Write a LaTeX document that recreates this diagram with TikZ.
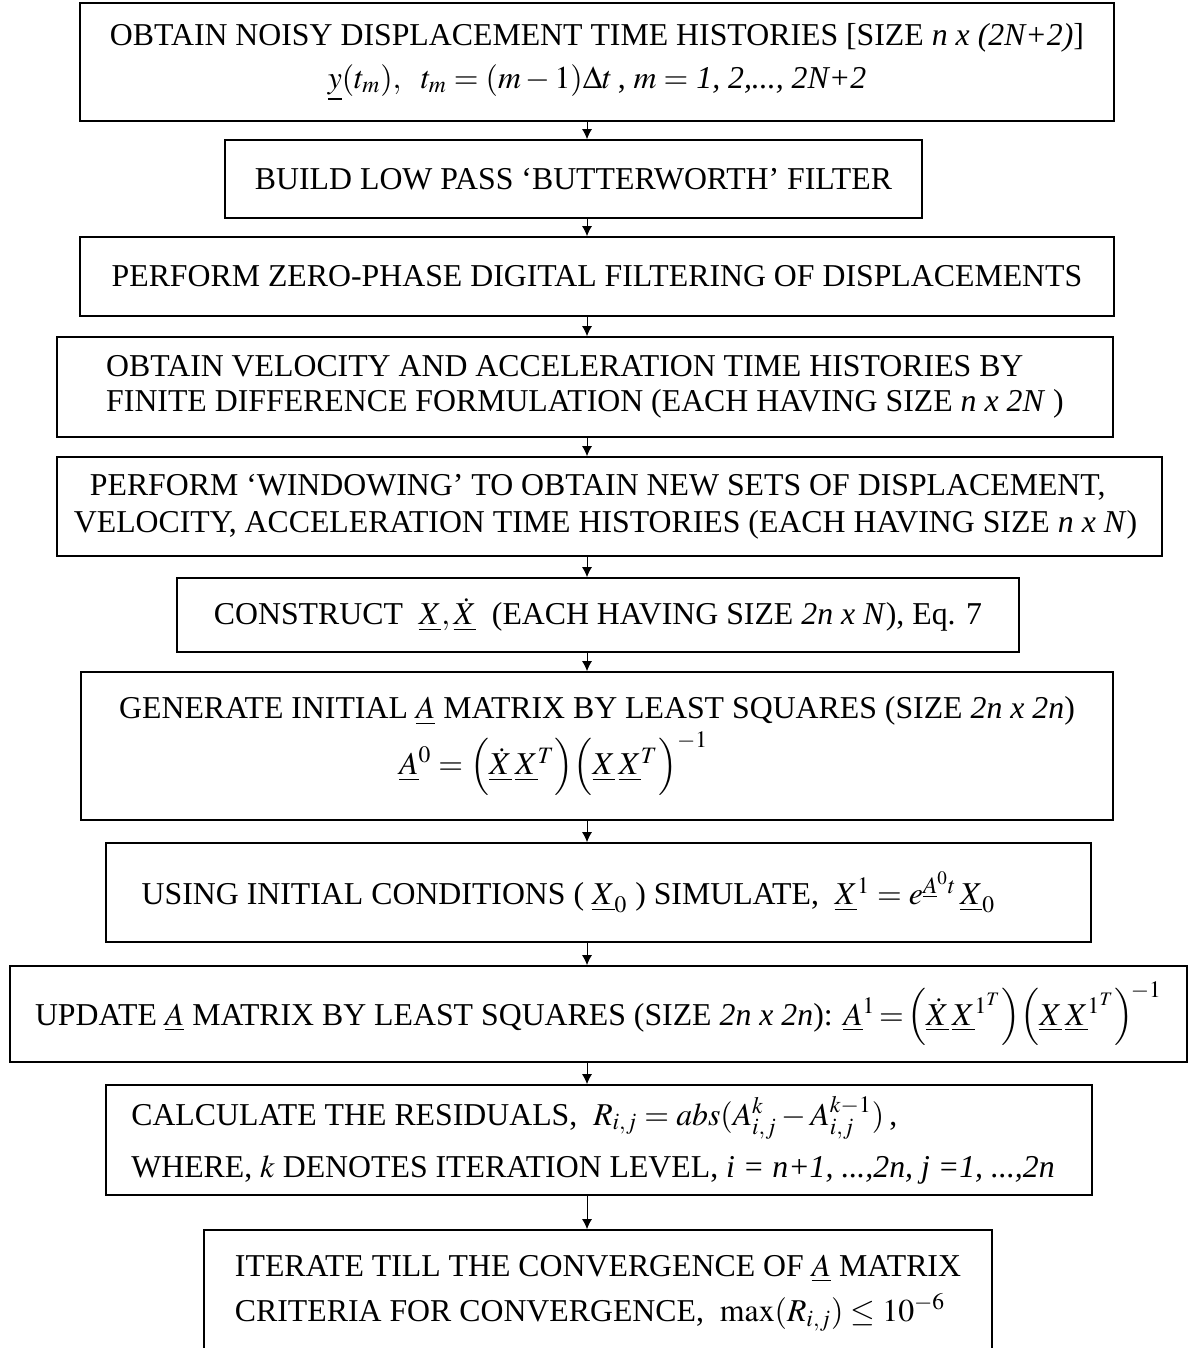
\documentclass[tikz,border=0pt]{standalone}
\usepackage{mathptmx}
\usepackage{fontspec}
\setmainfont{Liberation Serif}
\usetikzlibrary{arrows.meta}

\begin{document}
\begin{tikzpicture}[x=0.5pt,y=-0.5pt,
    box/.style={rectangle,draw,line width=0.9pt,inner sep=2pt,align=center,
        font=\fontsize{15.9}{17.5}\selectfont},
    >={Latex[length=5pt,width=5pt]}]
    \useasboundingbox (0,0) rectangle (1191,1348);
    \coordinate (ax) at (587,0);

    \node[box,minimum width=517pt,minimum height=59pt] (noisy) at (597,62)
        {OBTAIN NOISY DISPLACEMENT TIME HISTORIES [SIZE \textit{n x (2N+2)}]\\[4pt]
         $\underline{y}(t_m),\ \ t_m=(m-1)\Delta t$\,, $m=$ \textit{1, 2,..., 2N+2}};
    \node[box,minimum width=348.5pt,minimum height=39pt] (butter) at (573.5,179)
        {BUILD LOW PASS `BUTTERWORTH' FILTER};
    \node[box,minimum width=517pt,minimum height=39.5pt] (zerophase) at (597,276.5)
        {PERFORM ZERO-PHASE DIGITAL FILTERING OF DISPLACEMENTS};
    \node[box,align=left,minimum width=528pt,minimum height=50pt] (velacc) at (585,387)
        {OBTAIN VELOCITY AND ACCELERATION TIME HISTORIES BY\\
         FINITE DIFFERENCE FORMULATION (EACH HAVING SIZE \textit{n x 2N} )};
    \node[box,align=left,minimum width=552.5pt,minimum height=49.5pt] (window) at (609.5,506.5)
        {\hspace*{8pt}PERFORM `WINDOWING' TO OBTAIN NEW SETS OF DISPLACEMENT,\\[1pt]
         VELOCITY, ACCELERATION TIME HISTORIES (EACH HAVING SIZE \textit{n x N})\hspace*{4pt}};
    \node[box,minimum width=421pt,minimum height=37pt] (construct) at (598,615)
        {CONSTRUCT \ $\underline{X},\underline{\dot{X}}$ \ (EACH HAVING SIZE \textit{2n x N}), Eq. 7};
    \node[box,align=left,minimum width=516pt,minimum height=74pt] (initA) at (597,746)
        {GENERATE INITIAL $\underline{A}$ MATRIX BY LEAST SQUARES (SIZE \textit{2n x 2n})\\[2pt]
         \hspace*{140pt}$\underline{A}^{0}=\Bigl(\underline{\dot{X}}\,\underline{X}^{T}\Bigr)
         \Bigl(\underline{X}\,\underline{X}^{T}\Bigr)^{-1}$};
    \node[box,minimum width=492.5pt,minimum height=49.5pt] (simulate) at (598.5,892.5)
        {USING INITIAL CONDITIONS ( $\underline{X}_0$ ) SIMULATE, \
         $\underline{X}^{1}=e^{\underline{A}^{0}t}\,\underline{X}_0$\hspace*{30pt}};
    \node[box,minimum width=588.5pt,minimum height=48pt] (update) at (598.5,1014)
        {UPDATE $\underline{A}$ MATRIX BY LEAST SQUARES (SIZE \textit{2n x 2n}):
         $\underline{A}^{1}\!=\!\left(\rule[-10pt]{0pt}{28pt}\underline{\dot{X}}\,\underline{X}^{1^{T}}\right)\!
         \left(\rule[-10pt]{0pt}{28pt}\underline{X}\,\underline{X}^{1^{T}}\right)^{\!-1}$};
    \node[box,align=left,minimum width=493pt,minimum height=55pt] (resid) at (599,1140)
        {CALCULATE THE RESIDUALS, \ $R_{i,j}=abs(A^{k}_{i,j}-A^{k-1}_{i,j})$\,,\\[7pt]
         WHERE, $k$ DENOTES ITERATION LEVEL, \textit{i = n+1, ...,2n, j =1, ...,2n}\hspace*{6pt}};
    \node[box,align=left,minimum width=394pt,minimum height=63pt] (iterate) at (598,1293)
        {ITERATE TILL THE CONVERGENCE OF $\underline{A}$ MATRIX\\[5pt]
         CRITERIA FOR CONVERGENCE, \ $\max(R_{i,j})\le 10^{-6}$};

    \draw[->] (noisy.south -| ax) -- (butter.north -| ax);
    \draw[->] (butter.south -| ax) -- (zerophase.north -| ax);
    \draw[->] (zerophase.south -| ax) -- (velacc.north -| ax);
    \draw[->] (velacc.south -| ax) -- (window.north -| ax);
    \draw[->] (window.south -| ax) -- (construct.north -| ax);
    \draw[->] (construct.south -| ax) -- (initA.north -| ax);
    \draw[->] (initA.south -| ax) -- (simulate.north -| ax);
    \draw[->] (simulate.south -| ax) -- (update.north -| ax);
    \draw[->] (update.south -| ax) -- (resid.north -| ax);
    \draw[->] (resid.south -| ax) -- (iterate.north -| ax);
\end{tikzpicture}
\end{document}
